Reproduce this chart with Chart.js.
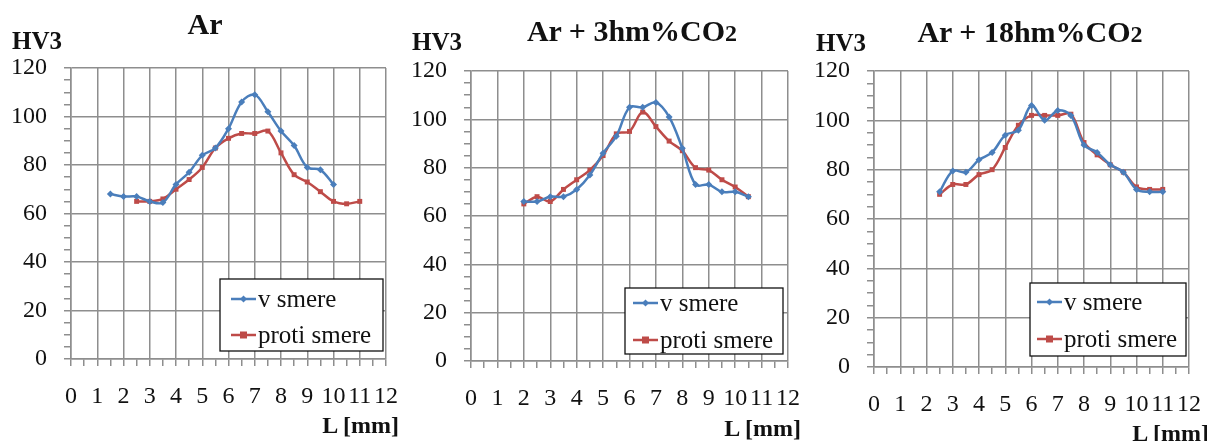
<!DOCTYPE html>
<html>
<head>
<meta charset="utf-8">
<script src="https://cdn.jsdelivr.net/npm/chart.js@4"></script>
<style>
  html, body { margin: 0; padding: 0; background: #fff; }
  body { width: 1207px; height: 441px; position: relative; overflow: hidden; font-family: "Liberation Serif", "Times New Roman", serif; color: #111; }
  canvas { position: absolute; top: 0; }
  .t { position: absolute; font-weight: bold; font-size: 30px; white-space: nowrap; transform: translate(-50%, -50%); }
  .t .s { font-size: 0.8em; }
  .yl { position: absolute; font-weight: bold; font-size: 25px; transform: translateY(-50%); }
  .xl { position: absolute; font-weight: bold; font-size: 24px; transform: translate(-100%, -50%); white-space: nowrap; }
</style>
</head>
<body>
<canvas id="c1" width="400" height="441" style="left:0px"></canvas>
<canvas id="c2" width="410" height="441" style="left:400px"></canvas>
<canvas id="c3" width="407" height="441" style="left:800px"></canvas>

<div class="t" style="left:205px;top:24px">Ar</div>
<div class="t" style="left:632px;top:31px">Ar + 3hm%CO<span class="s">2</span></div>
<div class="t" style="left:1030px;top:32px">Ar + 18hm%CO<span class="s">2</span></div>

<div class="yl" style="left:12px;top:41px">HV3</div>
<div class="yl" style="left:412px;top:42px">HV3</div>
<div class="yl" style="left:816px;top:43px">HV3</div>

<div class="xl" style="left:399px;top:425px">L [mm]</div>
<div class="xl" style="left:801px;top:428px">L [mm]</div>
<div class="xl" style="left:1209px;top:433px">L [mm]</div>

<script>
// series labels
const SERIES = ['v smere', 'proti smere'];

// Ar
const L_AR_V = [1.5, 2, 2.5, 3, 3.5, 4, 4.5, 5, 5.5, 6, 6.5, 7, 7.5, 8, 8.5, 9, 9.5, 10];
const HV_AR_V = [68, 67, 67, 65, 64.5, 72, 77, 84, 87, 95, 106, 109, 102, 94, 88, 79, 78, 72];
const L_AR_P = [2.5, 3, 3.5, 4, 4.5, 5, 5.5, 6, 6.5, 7, 7.5, 8, 8.5, 9, 9.5, 10, 10.5, 11];
const HV_AR_P = [65, 65, 66, 70, 74, 79, 87, 91, 93, 93, 94, 85, 76, 73, 69, 65, 64, 65];

// Ar + 3hm%CO2
const L_CO2_3 = [2, 2.5, 3, 3.5, 4, 4.5, 5, 5.5, 6, 6.5, 7, 7.5, 8, 8.5, 9, 9.5, 10, 10.5];
const HV_CO2_3_V = [66, 66, 68, 68, 71, 77, 86, 93, 105, 105, 107, 101, 88, 73, 73, 70, 70, 68];
const HV_CO2_3_P = [65, 68, 66, 71, 75, 79, 85, 94, 95, 103, 97, 91, 87, 80, 79, 75, 72, 68];

// Ar + 18hm%CO2
const L_CO2_18 = [2.5, 3, 3.5, 4, 4.5, 5, 5.5, 6, 6.5, 7, 7.5, 8, 8.5, 9, 9.5, 10, 10.5, 11];
const HV_CO2_18_V = [71, 79.5, 79, 84, 87, 94, 96, 106, 100, 104, 102, 90, 87, 82, 79, 72, 71, 71];
const HV_CO2_18_P = [70, 74, 74, 78, 80, 89, 98, 102, 102, 102, 102.5, 91, 86, 82, 79, 73, 72, 72];

// axes
const X_MIN = 0, X_MAX = 12, X_MINOR = 0.5;
const Y_MIN = 0, Y_MAX = 120, Y_MAJOR = 20, Y_MINOR = 5;

const BLUE = '#4a7ebb';
const RED = '#be4b48';
const GRID = '#8e8e8e';
const FONT = '"Liberation Serif", "Times New Roman", serif';

const pts = (xs, ys) => xs.map((x, i) => ({ x, y: ys[i] }));

function drawMarker(ctx, style, color, x, y) {
  ctx.fillStyle = color;
  ctx.beginPath();
  if (style === 'rectRot') {
    const r = 3.5;
    ctx.moveTo(x, y - r); ctx.lineTo(x + r, y); ctx.lineTo(x, y + r); ctx.lineTo(x - r, y);
  } else {
    ctx.rect(x - 3.5, y - 3.5, 7, 7);
  }
  ctx.closePath();
  ctx.fill();
}

// framed legend in the lower right of the plot
const boxLegend = {
  id: 'boxLegend',
  afterDraw(chart, args, o) {
    const ctx = chart.ctx;
    ctx.save();
    ctx.fillStyle = '#fff';
    ctx.fillRect(o.x, o.y, o.w, o.h);
    ctx.strokeStyle = '#111';
    ctx.lineWidth = 1.3;
    ctx.strokeRect(o.x, o.y, o.w, o.h);
    chart.data.datasets.forEach((ds, i) => {
      const cy = o.y + o.rows[i];
      ctx.strokeStyle = ds.borderColor;
      ctx.lineWidth = 2.5;
      ctx.beginPath();
      ctx.moveTo(o.x + o.lx, cy);
      ctx.lineTo(o.x + o.lx + 25, cy);
      ctx.stroke();
      drawMarker(ctx, ds.pointStyle, ds.borderColor, o.x + o.lx + 12.5, cy);
      ctx.fillStyle = '#111';
      ctx.font = '25px ' + FONT;
      ctx.textBaseline = 'middle';
      ctx.textAlign = 'left';
      ctx.fillText(ds.label, o.x + o.lx + 27, cy + 1);
    });
    ctx.restore();
  }
};

function makeChart(id, vData, pData, box) {
  const ds = (label, data, color, style, r) => ({
    label, data,
    borderColor: color, backgroundColor: color,
    borderWidth: 2.5, tension: 0.35,
    pointStyle: style, pointRadius: r, pointHoverRadius: r,
    pointBorderWidth: 0
  });
  return new Chart(document.getElementById(id), {
    type: 'line',
    data: {
      datasets: [
        ds(SERIES[0], vData, BLUE, 'rectRot', 3.5),
        ds(SERIES[1], pData, RED, 'rect', 3.5)
      ]
    },
    plugins: [boxLegend],
    options: {
      responsive: false,
      animation: false,
      events: [],
      layout: { padding: { top: box.top, right: box.right, bottom: 0, left: 0 } },
      plugins: {
        legend: { display: false },
        tooltip: { enabled: false },
        boxLegend: box.legend
      },
      scales: {
        x: {
          type: 'linear', min: X_MIN, max: X_MAX,
          afterFit: s => { s.height = box.xh; s.paddingLeft = 0; s.paddingRight = 0; },
          border: { color: GRID, width: 1.5 },
          grid: {
            color: c => (c.tick && Number.isInteger(c.tick.value)) ? GRID : 'rgba(0,0,0,0)',
            tickColor: GRID, lineWidth: 1.5, tickLength: 7
          },
          ticks: {
            stepSize: X_MINOR, autoSkip: false, maxRotation: 0, minRotation: 0,
            padding: 16, color: '#111', font: { family: FONT, size: 24 },
            callback: v => Number.isInteger(v) ? String(v) : ''
          }
        },
        y: {
          min: Y_MIN, max: Y_MAX,
          afterFit: s => { s.width = box.yw; },
          border: { color: GRID, width: 1.5 },
          grid: {
            color: c => (c.tick && c.tick.value % Y_MAJOR === 0) ? GRID : 'rgba(0,0,0,0)',
            tickColor: GRID, lineWidth: 1.5, tickLength: 7
          },
          ticks: {
            stepSize: Y_MINOR, autoSkip: false, padding: 17,
            color: '#111', font: { family: FONT, size: 24 },
            callback: v => v % Y_MAJOR === 0 ? String(v) : ''
          }
        }
      }
    }
  });
}

makeChart('c1', pts(L_AR_V, HV_AR_V), pts(L_AR_P, HV_AR_P), {
  top: 68, right: 14, yw: 71, xh: 82,
  legend: { x: 220, y: 279, w: 163, h: 72, rows: [20, 56], lx: 11 }
});
makeChart('c2', pts(L_CO2_3, HV_CO2_3_V), pts(L_CO2_3, HV_CO2_3_P), {
  top: 71, right: 22, yw: 71, xh: 80,
  legend: { x: 225, y: 288, w: 158, h: 66, rows: [15, 52], lx: 8 }
});
makeChart('c3', pts(L_CO2_18, HV_CO2_18_V), pts(L_CO2_18, HV_CO2_18_P), {
  top: 71, right: 18, yw: 74, xh: 74,
  legend: { x: 230, y: 283, w: 156, h: 73, rows: [19, 56], lx: 7 }
});
</script>
</body>
</html>
